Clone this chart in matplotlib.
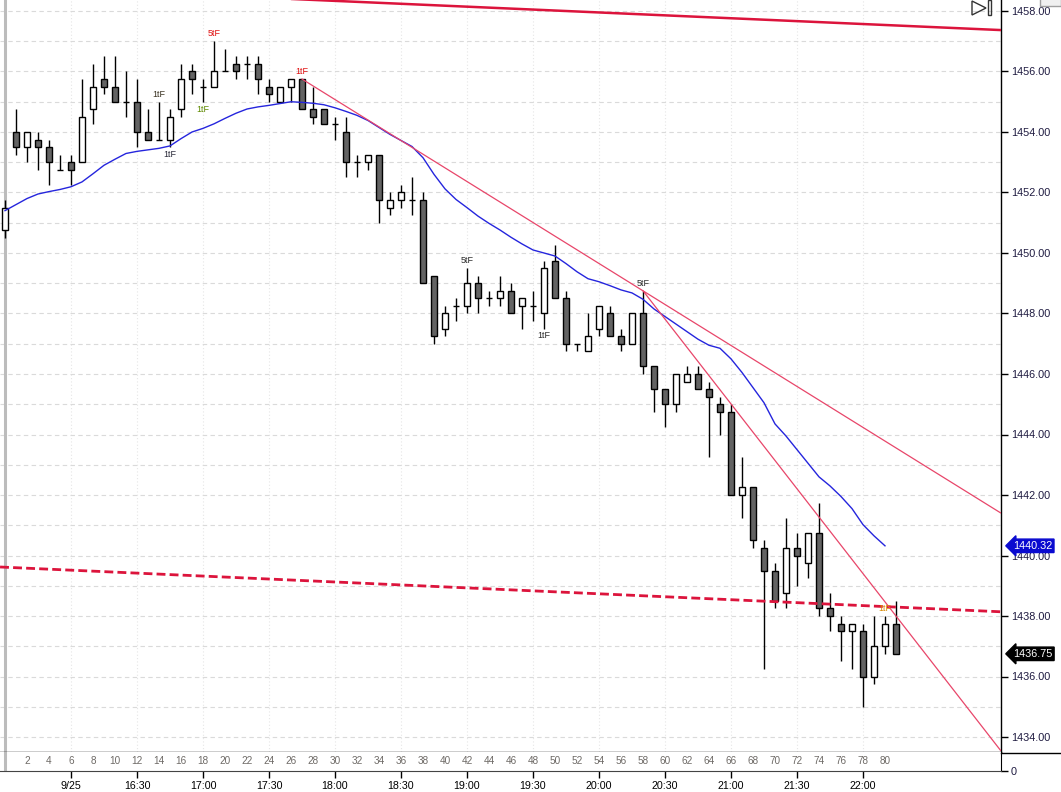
import numpy as np
import matplotlib.pyplot as plt
from matplotlib.patches import Rectangle, Polygon
from matplotlib.lines import Line2D
from matplotlib.transforms import blended_transform_factory

plt.rcParams['font.family'] = ['Liberation Sans', 'DejaVu Sans']

# 5 min bars, 15:30 .. 22:15
opens = [1450.75, 1454.0, 1453.5, 1453.75, 1453.5, 1452.75, 1453.0, 1453.0, 1454.75, 1455.75,
         1455.5, 1455.0, 1455.0, 1454.0, 1453.75, 1453.75, 1454.75, 1456.0, 1455.5, 1455.5,
         1456.0, 1456.25, 1456.25, 1456.25, 1455.5, 1455.0, 1455.5, 1455.75, 1454.75, 1454.75,
         1454.25, 1454.0, 1453.0, 1453.0, 1453.25, 1451.5, 1451.75, 1451.75, 1451.75, 1449.25,
         1447.5, 1448.25, 1448.25, 1449.0, 1448.5, 1448.5, 1448.75, 1448.25, 1448.25, 1448.0,
         1449.75, 1448.5, 1447.0, 1446.75, 1447.5, 1448.0, 1447.25, 1447.0, 1448.0, 1446.25,
         1445.5, 1445.0, 1445.75, 1446.0, 1445.5, 1445.0, 1444.75, 1442.0, 1442.25, 1440.25,
         1439.5, 1438.75, 1440.25, 1439.75, 1440.75, 1438.25, 1437.75, 1437.5, 1437.5, 1436.0,
         1437.0, 1437.75]
highs = [1451.75, 1454.75, 1454.0, 1454.0, 1453.75, 1453.25, 1453.25, 1455.75, 1456.25, 1456.5,
         1456.5, 1456.0, 1455.75, 1454.75, 1455.0, 1454.75, 1456.25, 1456.25, 1455.75, 1457.0,
         1456.75, 1456.5, 1456.5, 1456.5, 1455.75, 1455.5, 1455.75, 1455.75, 1455.5, 1454.75,
         1454.5, 1454.5, 1453.25, 1453.25, 1453.25, 1452.0, 1452.25, 1452.5, 1452.0, 1449.25,
         1448.25, 1448.5, 1449.5, 1449.25, 1448.75, 1449.25, 1449.0, 1448.5, 1448.75, 1449.75,
         1450.25, 1448.75, 1447.0, 1448.0, 1448.25, 1448.25, 1447.5, 1448.0, 1448.75, 1446.25,
         1445.5, 1446.0, 1446.25, 1446.25, 1445.75, 1445.25, 1445.0, 1443.25, 1442.25, 1440.5,
         1439.75, 1441.25, 1440.75, 1440.75, 1441.75, 1438.75, 1438.0, 1437.75, 1437.75, 1438.0,
         1438.0, 1438.5]
lows = [1450.5, 1453.25, 1453.0, 1452.75, 1452.25, 1452.75, 1452.25, 1453.0, 1454.25, 1455.25,
        1455.0, 1454.5, 1453.5, 1453.75, 1453.75, 1453.5, 1454.5, 1455.25, 1455.0, 1455.5,
        1456.0, 1455.75, 1455.75, 1455.25, 1455.0, 1455.0, 1455.0, 1454.75, 1454.25, 1454.25,
        1453.75, 1452.5, 1452.5, 1452.75, 1451.0, 1451.25, 1451.5, 1451.25, 1449.0, 1447.0,
        1447.25, 1447.75, 1448.0, 1448.0, 1448.25, 1448.25, 1448.0, 1447.5, 1447.75, 1447.5,
        1448.5, 1446.75, 1446.75, 1446.75, 1447.25, 1447.25, 1446.75, 1447.0, 1446.0, 1444.75,
        1444.25, 1444.75, 1445.75, 1445.5, 1443.25, 1444.0, 1442.0, 1441.25, 1440.25, 1436.25,
        1438.25, 1438.25, 1439.0, 1439.25, 1438.0, 1437.5, 1436.5, 1436.25, 1435.0, 1435.75,
        1436.75, 1436.75]
closes = [1451.5, 1453.5, 1454.0, 1453.5, 1453.0, 1452.75, 1452.75, 1454.5, 1455.5, 1455.5,
          1455.0, 1455.0, 1454.0, 1453.75, 1453.75, 1454.5, 1455.75, 1455.75, 1455.5, 1456.0,
          1456.0, 1456.0, 1456.25, 1455.75, 1455.25, 1455.5, 1455.75, 1454.75, 1454.5, 1454.25,
          1454.25, 1453.0, 1453.0, 1453.25, 1451.75, 1451.75, 1452.0, 1451.75, 1449.0, 1447.25,
          1448.0, 1448.25, 1449.0, 1448.5, 1448.5, 1448.75, 1448.0, 1448.5, 1448.25, 1449.5,
          1448.5, 1447.0, 1447.0, 1447.25, 1448.25, 1447.25, 1447.0, 1448.0, 1446.25, 1445.5,
          1445.0, 1446.0, 1446.0, 1445.5, 1445.25, 1444.75, 1442.0, 1442.25, 1440.5, 1439.5,
          1438.5, 1440.25, 1440.0, 1440.75, 1438.25, 1438.0, 1437.5, 1437.75, 1436.0, 1437.0,
          1437.75, 1436.75]

# moving average (blue), bars 0..80
ma = [1451.4, 1451.6, 1451.8, 1451.95, 1452.03, 1452.1, 1452.19, 1452.35, 1452.62, 1452.9,
      1453.1, 1453.29, 1453.36, 1453.41, 1453.46, 1453.54, 1453.78, 1454.0, 1454.12, 1454.27,
      1454.45, 1454.62, 1454.76, 1454.83, 1454.88, 1454.94, 1455.0, 1454.98, 1454.95, 1454.9,
      1454.8, 1454.68, 1454.55, 1454.38, 1454.15, 1453.92, 1453.72, 1453.52, 1453.15, 1452.6,
      1452.12, 1451.77, 1451.5, 1451.22, 1450.98, 1450.76, 1450.52, 1450.3, 1450.1, 1450.0,
      1449.9, 1449.65, 1449.38, 1449.15, 1449.05, 1448.92, 1448.78, 1448.68, 1448.47, 1448.15,
      1447.9, 1447.65, 1447.4, 1447.15, 1446.95, 1446.85, 1446.5, 1446.05, 1445.55, 1445.05,
      1444.35, 1443.95, 1443.5, 1443.05, 1442.6, 1442.3, 1441.95, 1441.55, 1441.02, 1440.65,
      1440.32]

time_labels = ['9/25', '16:30', '17:00', '17:30', '18:00', '18:30', '19:00',
               '19:30', '20:00', '20:30', '21:00', '21:30', '22:00']
time_ticks = [6, 12, 18, 24, 30, 36, 42, 48, 54, 60, 66, 72, 78]
bar_numbers = list(range(2, 81, 2))

# bar, text, side, colour
signals = [(14, '1tF', 'above', '#3b3322'), (15, '1tF', 'below', '#2b2b3b'),
           (18, '1tF', 'below', '#5f8a00'), (19, '5tF', 'above', '#e01010'),
           (27, '1tF', 'above', '#e01010'), (42, '5tF', 'above', '#2b2b2b'),
           (49, '1tF', 'below', '#2b2b2b'), (58, '5tF', 'above', '#2b2b2b'),
           (80, '1tF', 'above', '#d98a00')]

# channel lines (bar, price)
upper_channel = ([-0.45, 90.5], [1458.82, 1457.37])
lower_channel = ([-0.45, 90.5], [1439.62, 1438.14])
steep_line = ([58, 81], [1448.75, 1438.0])

W, H = 1061, 792
fig = plt.figure(figsize=(W / 100, H / 100), dpi=100)
ax = fig.add_axes([0, (H - 752) / H, 1001 / W, 752 / H])
ax2 = fig.add_axes([0, (H - 771) / H, 1001 / W, 19 / H], sharex=ax)

n = len(opens)
bw = 0.55
for i in range(n):
    o, h, l, c = opens[i], highs[i], lows[i], closes[i]
    ax.vlines(i, l, h, color='black', lw=1.0, zorder=3)
    if o == c:
        ax.hlines(c, i - bw / 2, i + bw / 2, color='black', lw=1.0, zorder=4)
    else:
        fc = 'white' if c > o else '#636363'
        ax.add_patch(Rectangle((i - bw / 2, min(o, c)), bw, abs(c - o),
                               fc=fc, ec='black', lw=1.0, zorder=4))

ax.plot(range(len(ma)), ma, color='#2525dd', lw=1.0, zorder=5)

# trend lines
ax.plot(upper_channel[0], upper_channel[1], color='#dc143c', lw=1.8, zorder=6)
ax.plot(lower_channel[0], lower_channel[1], color='#dc143c', lw=2.0,
        ls=(0, (3.2, 1.5)), zorder=6)
s1 = (highs[58] - highs[27]) / (58 - 27)
ax.plot([27, 90.5], [highs[27], highs[27] + s1 * (90.5 - 27)],
        color='#e8466a', lw=0.9, zorder=6)
s2 = (steep_line[1][1] - steep_line[1][0]) / (steep_line[0][1] - steep_line[0][0])
ax.plot([58, 90.5], [highs[58], highs[58] + s2 * (90.5 - 58)],
        color='#e8466a', lw=0.9, zorder=6)

for b, txt, side, col in signals:
    if side == 'above':
        ax.annotate(txt, (b, highs[b]), xytext=(0, 2), textcoords='offset points',
                    ha='center', va='bottom', fontsize=6.5, color=col, zorder=7)
    else:
        ax.annotate(txt, (b, lows[b]), xytext=(0, -2), textcoords='offset points',
                    ha='center', va='top', fontsize=6.5, color=col, zorder=7)

ax.set_xlim(-5 / 11, 996 / 11)
ax.set_ylim(1458 - 741 / 30.25, 1458 + 11 / 30.25)
ax.set_yticks(np.arange(1434, 1459, 2))
ax.set_yticks(np.arange(1435, 1458, 2), minor=True)
ax.yaxis.set_major_formatter(plt.FormatStrFormatter('%.2f'))
ax.yaxis.tick_right()
ax.tick_params(axis='y', which='major', length=5, width=1, labelsize=7.8,
               labelcolor='#1e1a40', pad=2)
ax.tick_params(axis='y', which='minor', length=0)
ax.yaxis.grid(True, which='both', color='#dadada', ls=(0, (4, 3)), lw=0.8)
ax.set_xticks(time_ticks)
ax.xaxis.grid(True, color='#e6e6e6', ls=(0, (1, 2)), lw=0.8)
ax.tick_params(axis='x', length=0, labelbottom=False)
ax.set_axisbelow(True)
for sp in ['left', 'top']:
    ax.spines[sp].set_visible(False)
ax.spines['right'].set_linewidth(1.0)
ax.spines['bottom'].set_linewidth(1.0)
ax.axvline(-0.02, color='#bcbcbc', lw=2.2, zorder=2)

# last value boxes
tr = blended_transform_factory(ax.transAxes, ax.transData)
ax.text(1.012, ma[-1], f'{ma[-1]:.2f}', transform=tr, ha='left', va='center',
        fontsize=7.8, color='white', clip_on=False, zorder=10,
        bbox=dict(boxstyle='larrow,pad=0.16', fc='#0a0ad0', ec='#0a0ad0'))
ax.text(1.012, closes[-1], f'{closes[-1]:.2f}', transform=tr, ha='left', va='center',
        fontsize=7.8, color='white', clip_on=False, zorder=10,
        bbox=dict(boxstyle='larrow,pad=0.16', fc='black', ec='black'))

# bar number strip and time axis
ax2.set_ylim(0, 1)
for b in bar_numbers:
    ax2.text(b, 0.5, str(b), ha='center', va='center', fontsize=7.2, color='#6e6a66')
ax2.axvline(-0.02, color='#bcbcbc', lw=2.2)
ax2.set_xticks(time_ticks)
ax2.set_xticklabels(time_labels)
ax2.tick_params(axis='x', length=5, width=1, labelsize=7.7, pad=2)
ax2.yaxis.tick_right()
ax2.set_yticks([0])
ax2.set_yticklabels(['0'])
ax2.tick_params(axis='y', length=5, width=1, labelsize=7.8, labelcolor='#1e1a40', pad=2)
for sp in ['left', 'top']:
    ax2.spines[sp].set_visible(False)
ax2.spines['bottom'].set_linestyle((0, (2, 1)))
ax2.spines['bottom'].set_color('#444444')

# chrome: line under price panel and the scroll icons
ov = fig.add_axes([0, 0, 1, 1], zorder=20)
ov.set_xlim(0, W)
ov.set_ylim(H, 0)
ov.axis('off')
ov.patch.set_alpha(0)
ov.add_line(Line2D([1001, W], [752.5, 752.5], color='black', lw=1.0))
ov.add_patch(Polygon([[972, 1], [972, 15], [986, 8]], closed=True, fill=False,
                     ec='#333333', lw=1.0))
ov.add_patch(Rectangle((988, 0), 3, 15, fill=False, ec='#333333', lw=1.0))
ov.add_patch(Rectangle((1040, -3), 21, 9, fc='#f0f0f0', ec='#a0a0a0', lw=1.0))

fig.savefig('out.png', dpi=100)
